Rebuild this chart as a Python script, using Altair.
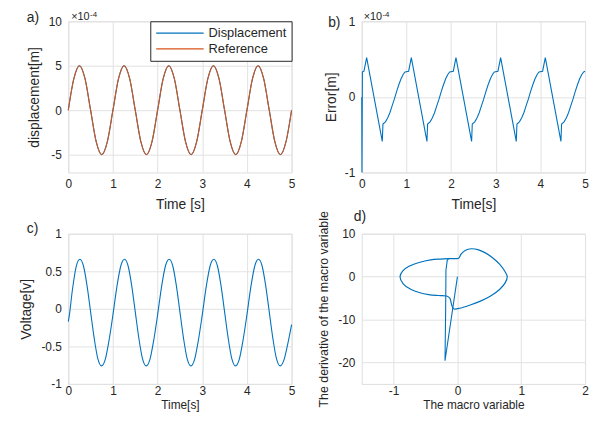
import altair as alt
import pandas as pd

FONT = "Liberation Sans"
INK = "#262626"
BLUE = "#0072BD"
ORANGE = "#D95319"
GRID = "#e2e2e2"

# ---------------- (a) displacement tracking (units of 1e-4 m) ----------------
time_a = [0.0, 0.125, 0.25, 0.375, 0.5, 0.625, 0.75, 0.875,
          1.0, 1.125, 1.25, 1.375, 1.5, 1.625, 1.75, 1.875,
          2.0, 2.125, 2.25, 2.375, 2.5, 2.625, 2.75, 2.875,
          3.0, 3.125, 3.25, 3.375, 3.5, 3.625, 3.75, 3.875,
          4.0, 4.125, 4.25, 4.375, 4.5, 4.625, 4.75, 4.875, 5.0]
displacement_a = [0.0, 3.54, 5.0, 3.54, 0.0, -3.54, -5.0, -3.54,
                  0.0, 3.54, 5.0, 3.54, 0.0, -3.54, -5.0, -3.54,
                  0.0, 3.54, 5.0, 3.54, 0.0, -3.54, -5.0, -3.54,
                  0.0, 3.54, 5.0, 3.54, 0.0, -3.54, -5.0, -3.54,
                  0.0, 3.54, 5.0, 3.54, 0.0, -3.54, -5.0, -3.54, 0.0]
reference_a = [0.0, 3.54, 5.0, 3.54, 0.0, -3.54, -5.0, -3.54,
               0.0, 3.54, 5.0, 3.54, 0.0, -3.54, -5.0, -3.54,
               0.0, 3.54, 5.0, 3.54, 0.0, -3.54, -5.0, -3.54,
               0.0, 3.54, 5.0, 3.54, 0.0, -3.54, -5.0, -3.54,
               0.0, 3.54, 5.0, 3.54, 0.0, -3.54, -5.0, -3.54, 0.0]

# ---------------- (b) tracking error (units of 1e-4 m) ----------------
time_b = [0.0, 0.005, 0.015, 0.05, 0.11, 0.46, 0.475, 0.53, 0.58, 0.63, 0.68, 0.73, 0.78, 0.83, 0.88, 0.93, 0.97,
          1.05, 1.11, 1.46, 1.475, 1.53, 1.58, 1.63, 1.68, 1.73, 1.78, 1.83, 1.88, 1.93, 1.97,
          2.05, 2.11, 2.46, 2.475, 2.53, 2.58, 2.63, 2.68, 2.73, 2.78, 2.83, 2.88, 2.93, 2.97,
          3.05, 3.11, 3.46, 3.475, 3.53, 3.58, 3.63, 3.68, 3.73, 3.78, 3.83, 3.88, 3.93, 3.97,
          4.05, 4.11, 4.46, 4.475, 4.53, 4.58, 4.63, 4.68, 4.73, 4.78, 4.83, 4.88, 4.93, 4.97, 5.0]
error_b = [0.0, -1.0, 0.33, 0.34, 0.52, -0.59, -0.36, -0.33, -0.28, -0.21, -0.12, -0.03, 0.07, 0.16, 0.24, 0.30, 0.33,
           0.34, 0.52, -0.59, -0.36, -0.33, -0.28, -0.21, -0.12, -0.03, 0.07, 0.16, 0.24, 0.30, 0.33,
           0.34, 0.52, -0.59, -0.36, -0.33, -0.28, -0.21, -0.12, -0.03, 0.07, 0.16, 0.24, 0.30, 0.33,
           0.34, 0.52, -0.59, -0.36, -0.33, -0.28, -0.21, -0.12, -0.03, 0.07, 0.16, 0.24, 0.30, 0.33,
           0.34, 0.52, -0.59, -0.36, -0.33, -0.28, -0.21, -0.12, -0.03, 0.07, 0.16, 0.24, 0.30, 0.33, 0.34]

# ---------------- (c) control voltage ----------------
time_c = [0.0, 0.03, 0.09, 0.18, 0.26, 0.34, 0.42, 0.50, 0.58, 0.66, 0.745, 0.83, 0.91,
          1.0, 1.09, 1.18, 1.26, 1.34, 1.42, 1.50, 1.58, 1.66, 1.745, 1.83, 1.91,
          2.0, 2.09, 2.18, 2.26, 2.34, 2.42, 2.50, 2.58, 2.66, 2.745, 2.83, 2.91,
          3.0, 3.09, 3.18, 3.26, 3.34, 3.42, 3.50, 3.58, 3.66, 3.745, 3.83, 3.91,
          4.0, 4.09, 4.18, 4.26, 4.34, 4.42, 4.50, 4.58, 4.66, 4.745, 4.83, 4.91, 5.0]
voltage_c = [-0.17, -0.06, 0.24, 0.57, 0.66, 0.57, 0.31, -0.04, -0.39, -0.66, -0.76, -0.67, -0.43,
             -0.08, 0.30, 0.58, 0.66, 0.57, 0.31, -0.04, -0.39, -0.66, -0.76, -0.67, -0.43,
             -0.08, 0.30, 0.58, 0.66, 0.57, 0.31, -0.04, -0.39, -0.66, -0.76, -0.67, -0.43,
             -0.08, 0.30, 0.58, 0.66, 0.57, 0.31, -0.04, -0.39, -0.66, -0.76, -0.67, -0.43,
             -0.08, 0.30, 0.58, 0.66, 0.57, 0.31, -0.04, -0.39, -0.66, -0.76, -0.68, -0.48, -0.21]

# ---------------- (d) phase portrait of the macro variable ----------------
transient_x = [0.0, -0.195, -0.185, -0.18, -0.16, -0.14]
transient_y = [0.0, -19.6, -8.0, 1.5, 3.8, 4.2]
orbit_x = [-0.14, -0.02, 0.02, 0.06, 0.12, 0.22, 0.32, 0.43, 0.55, 0.66, 0.74, 0.78,
           0.75, 0.66, 0.52, 0.36, 0.20, 0.05, -0.06, -0.09, -0.12, -0.17, -0.30, -0.45,
           -0.60, -0.74, -0.85, -0.90, -0.86, -0.76, -0.60, -0.42, -0.27, -0.14]
orbit_y = [4.2, 4.2, 4.3, 5.3, 6.1, 6.5, 6.3, 5.6, 4.4, 2.9, 1.3, 0.0,
           -1.4, -3.0, -4.5, -5.7, -6.6, -7.3, -7.5, -6.6, -5.0, -4.5, -4.4, -4.2,
           -3.7, -2.9, -1.7, 0.0, 1.3, 2.4, 3.3, 3.9, 4.1, 4.2]

W = 226
H_TOP = 153
H_BOT = 152


def x_axis(title, values, label_pad, title_pad, title_size=14):
    return alt.Axis(title=title, values=values, grid=True, gridColor=GRID, gridWidth=1,
                    ticks=False, domain=False, labelFlush=False, labelOverlap=False,
                    labelPadding=label_pad, titlePadding=title_pad,
                    labelFont=FONT, labelFontSize=12, labelColor=INK,
                    labelExpr="datum.value + ''",
                    titleFont=FONT, titleFontSize=title_size, titleFontWeight="normal", titleColor=INK)


def y_axis(title, values, title_pad, title_size=14):
    return alt.Axis(title=title, values=values, grid=True, gridColor=GRID, gridWidth=1,
                    ticks=False, domain=False, labelFlush=False, labelOverlap=False,
                    labelPadding=7, titlePadding=title_pad,
                    labelFont=FONT, labelFontSize=12, labelColor=INK,
                    labelExpr="datum.value + ''",
                    titleFont=FONT, titleFontSize=title_size, titleFontWeight="normal", titleColor=INK)


def note(txt, x, y, size, baseline="middle"):
    return alt.Chart(pd.DataFrame({"k": [0]})).mark_text(
        text=txt, align="left", baseline=baseline, fontSize=size, font=FONT, color=INK
    ).encode(x=alt.value(x), y=alt.value(y))


# panel a
df_a = pd.DataFrame({
    "t": time_a + time_a,
    "v": displacement_a + reference_a,
    "s": ["Displacement"] * len(time_a) + ["Reference"] * len(time_a),
})
line_a = alt.Chart(df_a).mark_line(strokeWidth=1.1, interpolate="monotone").encode(
    x=alt.X("t:Q", scale=alt.Scale(domain=[0, 5], nice=False),
            axis=x_axis("Time [s]", [0, 1, 2, 3, 4, 5], 6, 8)),
    y=alt.Y("v:Q", scale=alt.Scale(domain=[-7, 10], nice=False),
            axis=y_axis("displacement[m]", [-5, 0, 5, 10], 7)),
    color=alt.Color("s:N", scale=alt.Scale(domain=["Displacement", "Reference"], range=[BLUE, ORANGE]),
                    legend=alt.Legend(title=None, orient="top-right", offset=0, symbolType="stroke",
                                      symbolSize=2304, symbolStrokeWidth=1.2, clipHeight=14,
                                      labelFont=FONT, labelFontSize=13, labelColor=INK, labelOffset=4,
                                      padding=5, rowPadding=2, strokeColor=INK, fillColor="white",
                                      cornerRadius=0)),
)
panel_a = alt.layer(
    line_a,
    note("a)", -42, -3, 14),
    note("\u00d710", 3, -1, 11, "alphabetic"),
    note("-4", 22, -4, 8, "alphabetic"),
).properties(width=W, height=H_TOP)

# panel b
df_b = pd.DataFrame({"t": time_b, "e": error_b})
line_b = alt.Chart(df_b).mark_line(strokeWidth=1.1, color=BLUE).encode(
    x=alt.X("t:Q", scale=alt.Scale(domain=[0, 5], nice=False),
            axis=x_axis("Time[s]", [0, 1, 2, 3, 4, 5], 6, 8)),
    y=alt.Y("e:Q", scale=alt.Scale(domain=[-1, 1], nice=False),
            axis=y_axis("Error[m]", [-1, 0, 1], 6)),
)
panel_b = alt.layer(
    line_b,
    note("b)", -34, 2, 14),
    note("\u00d710", 2, -1, 11, "alphabetic"),
    note("-4", 21, -4, 8, "alphabetic"),
).properties(width=W, height=H_TOP)

# panel c
df_c = pd.DataFrame({"t": time_c, "u": voltage_c})
line_c = alt.Chart(df_c).mark_line(strokeWidth=1.1, color=BLUE, interpolate="monotone").encode(
    x=alt.X("t:Q", scale=alt.Scale(domain=[0, 5], nice=False),
            axis=x_axis("Time[s]", [0, 1, 2, 3, 4, 5], 2, 3, 12)),
    y=alt.Y("u:Q", scale=alt.Scale(domain=[-1, 1], nice=False),
            axis=y_axis("Voltage[v]", [-1, -0.5, 0, 0.5, 1], 8)),
)
panel_c = alt.layer(
    line_c,
    note("c)", -42, -5, 14),
).properties(width=W, height=H_BOT)

# panel d
df_tr = pd.DataFrame({"s": transient_x, "ds": transient_y, "i": list(range(len(transient_x)))})
df_orb = pd.DataFrame({"s": orbit_x, "ds": orbit_y, "i": list(range(len(orbit_x)))})
x_d = alt.X("s:Q", scale=alt.Scale(domain=[-1.5, 2], nice=False),
            axis=x_axis("The macro variable", [-1, 0, 1, 2], 2, 3, 12))
y_d = alt.Y("ds:Q", scale=alt.Scale(domain=[-25, 10], nice=False),
            axis=y_axis("The derivative of the macro variable", [-20, -10, 0, 10], 7.5, 12.5))
line_tr = alt.Chart(df_tr).mark_line(strokeWidth=1.1, color=BLUE).encode(
    x=x_d, y=y_d, order="i:Q")
line_orb = alt.Chart(df_orb).mark_line(strokeWidth=1.2, color=BLUE, interpolate="catmull-rom").encode(
    x=x_d, y=y_d, order="i:Q")
panel_d = alt.layer(
    line_tr, line_orb,
    note("d)", -8, -17, 14),
).properties(width=W, height=H_BOT)

chart = alt.concat(
    panel_a, panel_b, panel_c, panel_d,
    columns=2,
    spacing={"row": 62, "column": 71},
    bounds="flush",
).resolve_scale(color="independent").resolve_legend(color="independent").properties(
    padding={"left": 10, "top": 0, "right": 0, "bottom": 0}
).configure_view(stroke="#404040", strokeWidth=1).configure(font=FONT)

chart.save("out.html", embed_options={"renderer": "svg", "actions": False})
